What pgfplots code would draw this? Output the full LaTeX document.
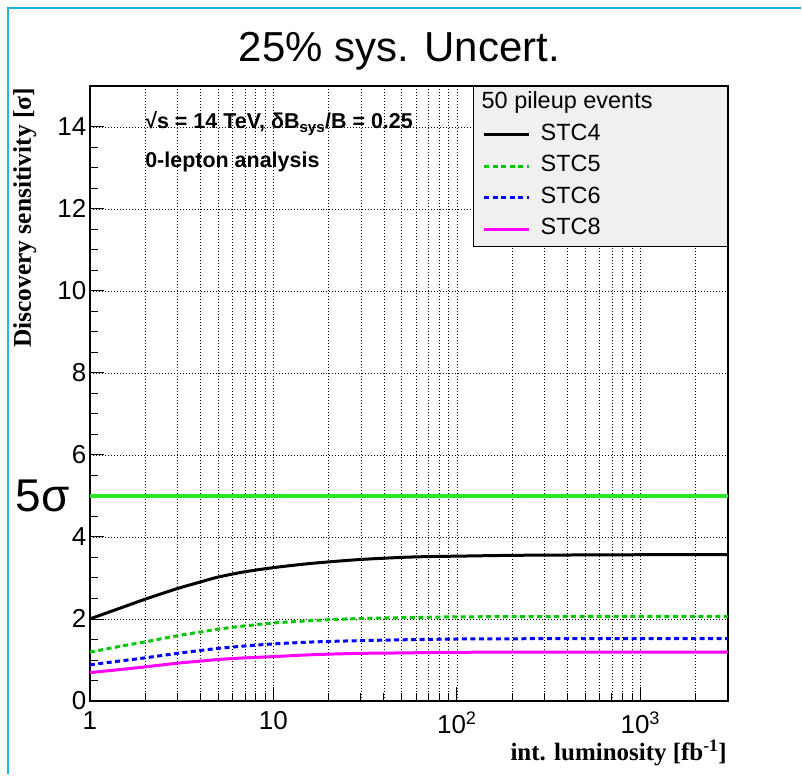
\documentclass[border=0pt]{standalone}
\usepackage{fontspec}
\setmainfont{Liberation Sans}
\newfontfamily\serifbf{Liberation Serif}
\usepackage{pgfplots}
\usepackage{pgfplotstable}
\pgfplotsset{compat=1.18}

\definecolor{framecyan}{RGB}{30,180,230}
\definecolor{fivesig}{RGB}{40,230,40}
\definecolor{stcgreen}{RGB}{0,200,0}
\definecolor{stcblue}{RGB}{0,0,255}
\definecolor{stcmag}{RGB}{255,0,255}
\definecolor{legfill}{RGB}{240,240,240}

% discovery sensitivity vs. integrated luminosity, 50 pileup events
\pgfplotstableread{
lumi  stc4   stc5   stc6   stc8
1     2.00   1.19   0.88   0.69
1.5   2.28   1.34   0.98   0.77
2     2.48   1.44   1.05   0.83
3     2.74   1.59   1.16   0.92
4     2.90   1.68   1.23   0.97
5     3.02   1.75   1.28   1.01
7     3.15   1.83   1.34   1.05
10    3.25   1.90   1.39   1.08
15    3.34   1.95   1.43   1.12
20    3.39   1.98   1.45   1.14
30    3.45   2.01   1.47   1.16
50    3.50   2.03   1.49   1.17
70    3.52   2.04   1.50   1.18
100   3.53   2.05   1.51   1.185
200   3.55   2.055  1.515  1.19
500   3.56   2.06   1.52   1.19
1000  3.565  2.06   1.52   1.19
3000  3.57   2.06   1.52   1.19
}\sens

\begin{document}
\begin{tikzpicture}[x=1pt,y=1pt]
\fill[white] (0,0) rectangle (802,775);
\draw[framecyan, line width=2.5pt] (8,0) -- (8,767) -- (802,767);

\begin{axis}[
  at={(90pt,73pt)}, anchor=south west,
  scale only axis, width=639pt, height=616pt,
  xmode=log, log basis x=10,
  xmin=1, xmax=3000, ymin=0, ymax=15,
  xtick={1,10,100,1000},
  xticklabels={1,10,10\textsuperscript{2},10\textsuperscript{3}},
  minor xtick={2,3,4,5,6,7,8,9,20,30,40,50,60,70,80,90,200,300,400,500,600,700,800,900,2000},
  ytick={0,2,...,14},
  minor y tick num=3,
  tick pos=left, tick align=inside,
  major tick length=14pt, minor tick length=8pt,
  every tick/.style={black, line width=0.8pt},
  axis line style={black, line width=1.3pt},
  xmajorgrids=true, xminorgrids=true, ymajorgrids=true,
  major grid style={black, line width=0.6pt, dash pattern=on 1pt off 2pt},
  minor grid style={black, line width=0.6pt, dash pattern=on 1pt off 2pt},
  /pgf/number format/assume math mode=true,
  tick label style={font=\fontsize{26}{30}\selectfont},
  xticklabel style={yshift=-7pt},
  legend cell align=left,
  legend image code/.code={\draw[#1] (0pt,0pt) -- (45pt,0pt);},
  legend style={
    at={(rel axis cs:1,1)}, anchor=north east,
    fill=legfill, draw=black, line width=0.8pt,
    font=\fontsize{23.5}{27}\selectfont,
    inner xsep=9pt, inner ysep=6.5pt,
    row sep=10.5pt, column sep=10pt,
    nodes={inner sep=0pt, text height=16pt, text depth=5pt},
  },
]
\addlegendimage{empty legend}
\addlegendentry{\hspace*{-59pt}50 pileup events\hspace*{66pt}}

\addplot[forget plot, fivesig, line width=3.4pt] coordinates {(1,5) (3000,5)};

\addplot[black, line width=3pt, smooth] table[x=lumi, y=stc4] {\sens};
\addlegendentry{STC4}
\addplot[stcgreen, line width=3pt, smooth, dash pattern=on 5pt off 3.5pt] table[x=lumi, y=stc5] {\sens};
\addlegendentry{STC5}
\addplot[stcblue, line width=3pt, smooth, dash pattern=on 5pt off 3.5pt] table[x=lumi, y=stc6] {\sens};
\addlegendentry{STC6}
\addplot[stcmag, line width=3pt, smooth] table[x=lumi, y=stc8] {\sens};
\addlegendentry{STC8}

\node[anchor=base west, font=\bfseries\fontsize{21.5}{25}\selectfont, inner sep=0pt]
  at (axis cs:2,13.95) {√s = 14 TeV, δB\textsubscript{sys}/B = 0.25};
\node[anchor=base west, font=\bfseries\fontsize{21.5}{25}\selectfont, inner sep=0pt]
  at (axis cs:2,13.0) {0-lepton analysis};
\end{axis}

\node[font=\fontsize{42}{50}\selectfont, anchor=base, inner sep=0pt] at (400,713) {25\% sys. Uncert.};
\node[font=\fontsize{46}{54}\selectfont, inner sep=0pt] at (43,278) {5σ};
\node[font=\serifbf\bfseries\fontsize{25.5}{30}\selectfont, rotate=90, anchor=base east, inner sep=0pt]
  at (31,687) {Discovery sensitivity [σ]};
\node[font=\serifbf\bfseries\fontsize{25}{30}\selectfont, anchor=base east, inner sep=0pt]
  at (728,13) {int. luminosity [fb\textsuperscript{-1}]};
\end{tikzpicture}
\end{document}
